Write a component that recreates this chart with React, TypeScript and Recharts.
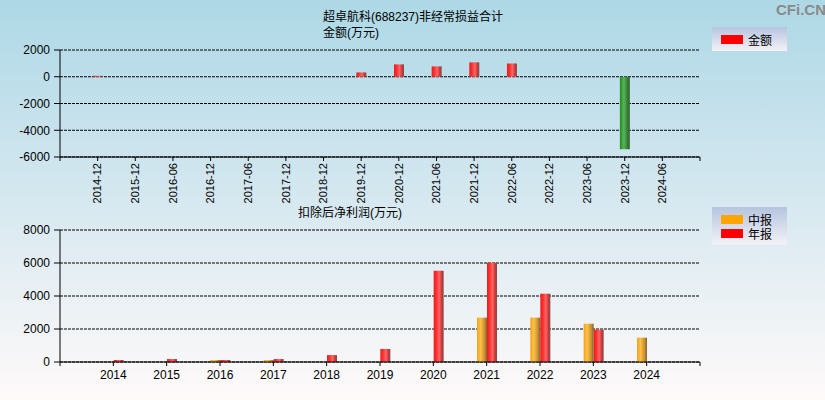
import React from "react";
import { BarChart, Bar, XAxis, YAxis, CartesianGrid, Cell } from "recharts";

// 非经常损益合计 (万元)
const periods = [
  "2014-12", "2015-12", "2016-06", "2016-12", "2017-06", "2017-12", "2018-12", "2019-12",
  "2020-12", "2021-06", "2021-12", "2022-06", "2022-12", "2023-06", "2023-12", "2024-06",
];
const amounts: (number | null)[] = [
  70, null, null, null, null, null, null, 325,
  925, 775, 1075, 1000, null, null, -5420, null,
];

// 扣除后净利润 (万元)
const years = ["2014", "2015", "2016", "2017", "2018", "2019", "2020", "2021", "2022", "2023", "2024"];
const midReport: (number | null)[] = [null, null, 120, 120, null, null, null, 2690, 2690, 2320, 1475];
const annualReport: (number | null)[] = [120, 180, 120, 180, 420, 790, 5530, 6020, 4140, 1960, null];

const topTicks = [-6000, -4000, -2000, 0, 2000];
const bottomTicks = [0, 2000, 4000, 6000, 8000];

const FONT = '"Liberation Sans", Arial, "Noto Sans CJK SC", sans-serif';

const topData = periods.map((p, i) => ({ idx: i + 1, period: p, amount: amounts[i] }));
const bottomData = years.map((y, i) => ({ idx: i + 1, year: y, mid: midReport[i], annual: annualReport[i] }));

const range = (n: number) => Array.from({ length: n }, (_, i) => i);

function RotatedTick({ x, y, payload }: any) {
  const label = periods[payload.value - 1];
  if (!label) return null;
  return (
    <text
      x={x}
      y={y}
      transform={`rotate(-90, ${x}, ${y})`}
      textAnchor="end"
      dy="0.35em"
      fontSize={11}
      fill="#000"
      fontFamily={FONT}
    >
      {label}
    </text>
  );
}

function Gradients() {
  return (
    <defs>
      <linearGradient id="redGrad" x1="0" y1="0" x2="1" y2="0">
        <stop offset="0%" stopColor="#ee1a1a" />
        <stop offset="30%" stopColor="#ff3434" />
        <stop offset="55%" stopColor="#ff6666" />
        <stop offset="80%" stopColor="#cc3838" />
        <stop offset="100%" stopColor="#7a4e4e" />
      </linearGradient>
      <linearGradient id="orangeGrad" x1="0" y1="0" x2="1" y2="0">
        <stop offset="0%" stopColor="#f2a216" />
        <stop offset="35%" stopColor="#ffc04a" />
        <stop offset="75%" stopColor="#c8922e" />
        <stop offset="100%" stopColor="#7c6040" />
      </linearGradient>
      <linearGradient id="greenGrad" x1="0" y1="0" x2="1" y2="0">
        <stop offset="0%" stopColor="#1e8a1e" />
        <stop offset="40%" stopColor="#5cb45c" />
        <stop offset="80%" stopColor="#2a7a2a" />
        <stop offset="100%" stopColor="#506050" />
      </linearGradient>
    </defs>
  );
}

const legendBox: React.CSSProperties = {
  position: "absolute",
  left: 712,
  width: 75,
  background: "linear-gradient(to bottom, #b6c4de, #f4f2f8)",
  fontFamily: FONT,
  fontSize: 12,
  color: "#000",
};

function LegendRow({ color, label }: { color: string; label: string }) {
  return (
    <div style={{ display: "flex", alignItems: "center", height: 14 }}>
      <div style={{ width: 22, height: 9, background: color, marginLeft: 9, marginRight: 5 }} />
      <span>{label}</span>
    </div>
  );
}

export default function App() {
  return (
    <div
      style={{
        position: "absolute",
        left: 0,
        top: 0,
        width: 825,
        height: 400,
        overflow: "hidden",
        background: "linear-gradient(to bottom, #add8e6 0%, #d6e8f0 50%, #fffafa 100%)",
        fontFamily: FONT,
      }}
    >
      <div style={{ position: "absolute", left: 776, top: 1, fontSize: 15, fontWeight: "bold", color: "#8a8a8a" }}>
        CFi.CN
      </div>
      <div style={{ position: "absolute", left: 323, top: 9, fontSize: 12, lineHeight: "16px" }}>
        超卓航科(688237)非经常损益合计
        <br />
        金额(万元)
      </div>
      <div style={{ position: "absolute", left: 298, top: 205, fontSize: 12, lineHeight: "16px" }}>
        扣除后净利润(万元)
      </div>

      <div style={{ position: "absolute", left: 0, top: 0 }}>
        <BarChart width={825} height={205} data={topData} margin={{ top: 50, right: 125, bottom: 0, left: 0 }}>
          <Gradients />
          <CartesianGrid vertical={false} stroke="#000" strokeDasharray="3 1" />
          <XAxis
            type="number"
            dataKey="idx"
            domain={[0, 17]}
            ticks={range(18)}
            interval={0}
            height={48}
            tickSize={4}
            tickMargin={2}
            stroke="#000"
            tick={<RotatedTick />}
          />
          <YAxis
            width={60}
            domain={[-6000, 2000]}
            ticks={topTicks}
            interval={0}
            tickSize={6}
            tickMargin={4}
            stroke="#000"
            tick={{ fill: "#000", fontSize: 12, fontFamily: FONT }}
          />
          <Bar dataKey="amount" barSize={10} isAnimationActive={false}>
            {topData.map((d) => (
              <Cell key={d.period} fill={(d.amount ?? 0) < 0 ? "url(#greenGrad)" : "url(#redGrad)"} />
            ))}
          </Bar>
        </BarChart>
      </div>

      <div style={{ ...legendBox, top: 27, height: 24, display: "flex", alignItems: "center" }}>
        <LegendRow color="#ff0000" label="金额" />
      </div>

      <div style={{ position: "absolute", left: 0, top: 200 }}>
        <BarChart
          width={825}
          height={200}
          data={bottomData}
          margin={{ top: 30, right: 125, bottom: 0, left: 0 }}
          barGap={0}
        >
          <Gradients />
          <CartesianGrid vertical={false} stroke="#000" strokeDasharray="3 1" />
          <XAxis
            type="number"
            dataKey="idx"
            domain={[0, 12]}
            ticks={range(13)}
            interval={0}
            height={38}
            tickSize={4}
            tickMargin={4}
            stroke="#000"
            tickFormatter={(v: number) => years[v - 1] ?? ""}
            tick={{ fill: "#000", fontSize: 12, fontFamily: FONT }}
          />
          <YAxis
            width={60}
            domain={[0, 8000]}
            ticks={bottomTicks}
            interval={0}
            tickSize={6}
            tickMargin={4}
            stroke="#000"
            tick={{ fill: "#000", fontSize: 12, fontFamily: FONT }}
          />
          <Bar dataKey="mid" name="中报" barSize={10} fill="url(#orangeGrad)" isAnimationActive={false} />
          <Bar dataKey="annual" name="年报" barSize={10} fill="url(#redGrad)" isAnimationActive={false} />
        </BarChart>
      </div>

      <div style={{ ...legendBox, top: 207, height: 38, paddingTop: 5, boxSizing: "border-box" }}>
        <LegendRow color="#ffa500" label="中报" />
        <LegendRow color="#ff0000" label="年报" />
      </div>
    </div>
  );
}
